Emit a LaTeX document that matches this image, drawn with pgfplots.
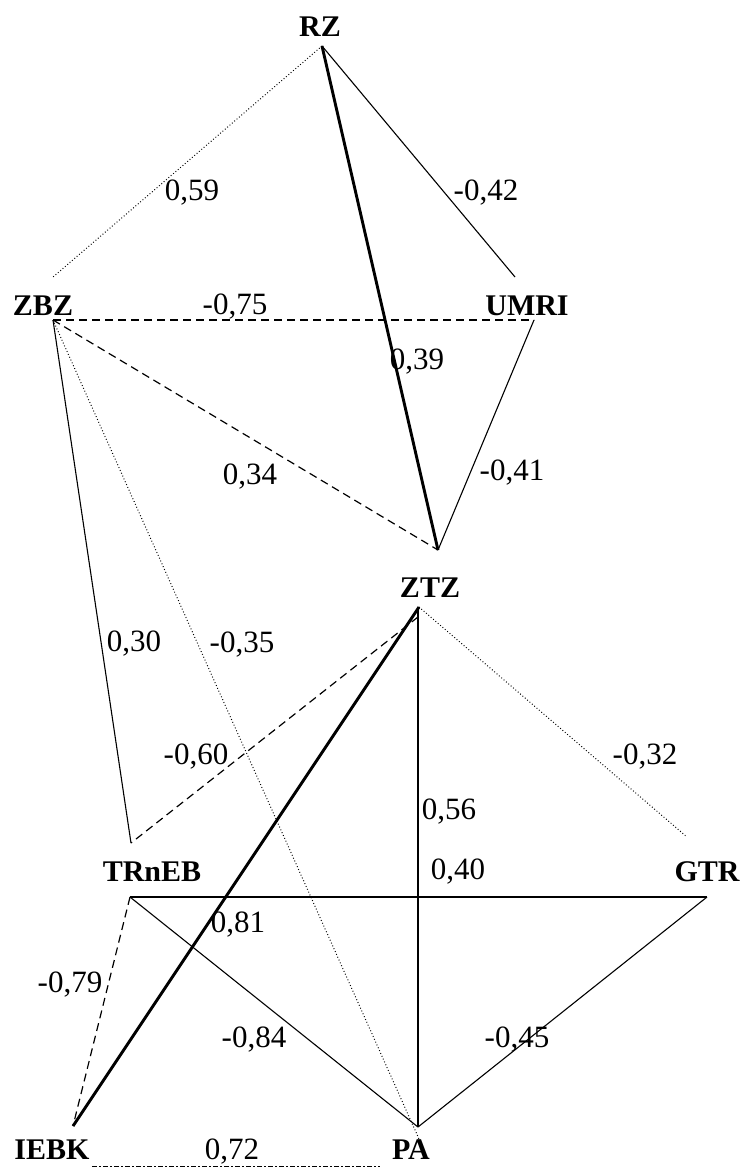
\documentclass[border=0pt]{standalone}
\usepackage{pgfplots}
\pgfplotsset{compat=1.18}
\usepackage{fontspec}
\setmainfont{Liberation Serif}
\begin{document}
\begin{tikzpicture}[
    solid1/.style={black, line width=0.55bp},
    thk/.style={black, line width=1.45bp},
    dsh/.style={black, line width=0.6bp, dash pattern=on 4bp off 2.5bp},
    dtt/.style={black, line width=0.5bp, dash pattern=on 0.45bp off 1.1bp},
    dshdot/.style={black, line width=0.5bp, dash pattern=on 2.5bp off 1.2bp on 0.6bp off 1.2bp},
    lbl/.style={font=\fontsize{15bp}{18bp}\selectfont\bfseries, inner sep=0pt},
    num/.style={font=\fontsize{15.5bp}{18bp}\selectfont, inner sep=0pt},
]
\begin{axis}[
    scale only axis,
    width=372bp, height=583.5bp,
    xmin=0, xmax=744, ymin=0, ymax=1167,
    y dir=reverse,
    hide axis,
    clip=false,
]
\path (axis cs:0,0) rectangle (axis cs:744,1167);
% upper group
\addplot[dtt] coordinates {(322,46) (53,277)};
\addplot[solid1] coordinates {(322,46) (515,277)};
\addplot[thk] coordinates {(322,46) (438,550)};
\addplot[dsh] coordinates {(53,320) (534,320)};
\addplot[solid1] coordinates {(534,320) (438,550)};
\addplot[dsh] coordinates {(53,320) (438,550)};
\addplot[solid1] coordinates {(53,320) (131,843)};
\addplot[dtt] coordinates {(53,320) (419,1139)};
% lower group
\addplot[dsh] coordinates {(418,617) (131,843)};
\addplot[thk] coordinates {(419,607) (73,1126)};
\addplot[solid1] coordinates {(418,607) (418,1127)};
\addplot[dtt] coordinates {(419,607) (687,837)};
\addplot[thk] coordinates {(130,897) (707,897)};
\addplot[solid1] coordinates {(130,897) (418,1127)};
\addplot[solid1] coordinates {(707,897) (418,1127)};
\addplot[dsh] coordinates {(130,897) (73,1126)};
\addplot[dshdot] coordinates {(92,1166) (380,1166)};
% variable names
\node[lbl] at (axis cs:320,27) {RZ};
\node[lbl] at (axis cs:43,306) {ZBZ};
\node[lbl] at (axis cs:527,306) {UMRI};
\node[lbl] at (axis cs:430,588) {ZTZ};
\node[lbl] at (axis cs:152,872) {TRnEB};
\node[lbl] at (axis cs:707,872) {GTR};
\node[lbl] at (axis cs:52,1150) {IEBK};
\node[lbl] at (axis cs:411,1150) {PA};
% correlation coefficients
\node[num] at (axis cs:192,193) {0,59};
\node[num] at (axis cs:486,193) {-0,42};
\node[num] at (axis cs:235,307) {-0,75};
\node[num] at (axis cs:417,362) {0,39};
\node[num] at (axis cs:512,473) {-0,41};
\node[num] at (axis cs:250,477) {0,34};
\node[num] at (axis cs:134,644) {0,30};
\node[num] at (axis cs:242,645) {-0,35};
\node[num] at (axis cs:196,757) {-0,60};
\node[num] at (axis cs:645,757) {-0,32};
\node[num] at (axis cs:449,812) {0,56};
\node[num] at (axis cs:458,872) {0,40};
\node[num] at (axis cs:238,925) {0,81};
\node[num] at (axis cs:70,985) {-0,79};
\node[num] at (axis cs:254,1040) {-0,84};
\node[num] at (axis cs:517,1040) {-0,45};
\node[num] at (axis cs:232,1152) {0,72};
\end{axis}
\end{tikzpicture}
\end{document}
